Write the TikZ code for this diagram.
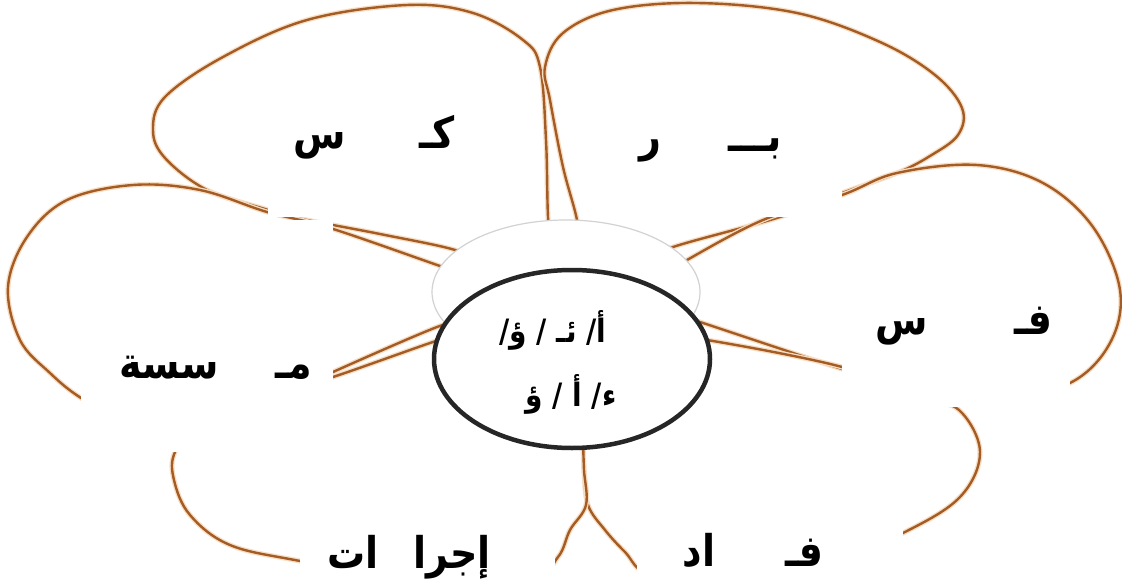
\documentclass[tikz,border=0pt]{standalone}
\usepackage{fontspec}
\usetikzlibrary{shapes.geometric}
\newfontfamily\arabicfont[Script=Arabic]{DejaVu Sans}
\TeXXeTstate=1
\definecolor{petalbrown}{RGB}{164,92,36}
\definecolor{petalglow}{RGB}{246,222,196}
\definecolor{coreline}{RGB}{38,38,38}
\definecolor{innerline}{RGB}{210,210,210}
\newcommand{\tallword}[1]{\scalebox{1}[1.15]{#1}}
\begin{document}
\begin{tikzpicture}[x=1pt,y=-1pt,
  petal/.style={draw=petalbrown, line width=2.4pt, line join=round, line cap=round,
    preaction={draw=petalglow, line width=5pt}},
  maskbox/.style={fill=white, draw=none},
  lbl/.style={font=\arabicfont\bfseries\fontsize{38}{44}\selectfont, inner sep=0pt, anchor=base, text=black},
  ctr/.style={font=\arabicfont\bfseries\fontsize{28}{32}\selectfont, inner sep=0pt, anchor=base, text=black}]
\useasboundingbox (0,0) rectangle (1122,586);
\fill[white] (0,0) rectangle (1122,586);

% petals
\draw[petal] plot[smooth, tension=0.6] coordinates {(470,262) (455,250) (380,234) (297,218) (265,209) (207,190) (165,158) (153,130) (165,97) (223,57) (307,20) (407,5) (473,13) (523,40) (540,67) (546,140) (548,217) (552,262)};
\draw[petal] plot[smooth, tension=0.6] coordinates {(582,262) (577,220) (563,167) (550,100) (545,67) (563,33) (613,10) (697,3) (797,13) (880,42) (935,75) (962,108) (958,135) (930,156) (897,173) (842,193) (780,217) (673,247) (645,262)};
\draw[petal] plot[smooth, tension=0.6] coordinates {(670,272) (687,260) (763,220) (842,195) (897,173) (977,165) (1043,183) (1093,227) (1120,290) (1110,343) (1070,383) (1000,398) (900,385) (842,369) (703,323) (685,318)};
\draw[petal] plot[smooth, tension=0.6] coordinates {(690,342) (707,340) (842,367) (920,398) (959,410) (980,452) (960,497) (903,533) (820,568) (720,580) (650,575) (625,552) (605,530) (588,505) (584,470) (583,440)};
\draw[petal] plot[smooth, tension=0.6] coordinates {(583,440) (584,470) (586,505) (570,530) (558,557) (530,578) (420,582) (300,561) (230,545) (190,515) (174,480) (175,452) (200,420) (280,392) (333,377) (430,343) (448,338)};
\draw[petal] plot[smooth, tension=0.6] coordinates {(452,326) (437,327) (333,372) (230,420) (130,425) (81,398) (50,373) (20,340) (8,287) (27,237) (67,200) (133,185) (200,190) (267,212) (330,228) (440,266) (458,272)};

% white label boxes
\fill[maskbox] (268,95) rectangle (535,217);
\fill[maskbox] (590,95) rectangle (842,217);
\fill[maskbox] (842,210) rectangle (1070,407);
\fill[maskbox] (81,220) rectangle (333,452);
\fill[maskbox] (300,470) rectangle (555,586);
\fill[maskbox] (637,470) rectangle (903,586);

% centre
\node[ellipse, draw=innerline, line width=1.2pt, fill=white, minimum width=268pt, minimum height=144pt, inner sep=0pt] (inner) at (566,292) {};
\node[ellipse, draw=coreline, line width=4.5pt, fill=white, minimum width=276pt, minimum height=178pt, inner sep=0pt] (core) at (572,359) {};

\node[ctr] (c1) at (553,342) {\tallword{\beginR أ/ ئـ / ؤ/\endR}};
\node[ctr] (c2) at (571,406) {\tallword{\beginR ء/ أ / ؤ\endR}};

% labels
\node[lbl] (tl) at (374,148) {\tallword{\beginR كـ\hspace{74pt}س\endR}};
\node[lbl] (tr) at (711,151) {\tallword{\beginR بـــ\hspace{67pt}ر\endR}};
\node[lbl] (mr) at (964,334) {\tallword{\beginR فـ\hspace{86pt}س\endR}};
\node[lbl] (ml) at (216,378) {\tallword{\beginR مـ\hspace{57pt}سسة\endR}};
\node[lbl] (bl) at (409,568) {\tallword{\beginR إجرا\hspace{35pt}ات\endR}};
\node[lbl] (br) at (753,566) {\tallword{\beginR فـ\hspace{70pt}اد\endR}};
\end{tikzpicture}
\end{document}
